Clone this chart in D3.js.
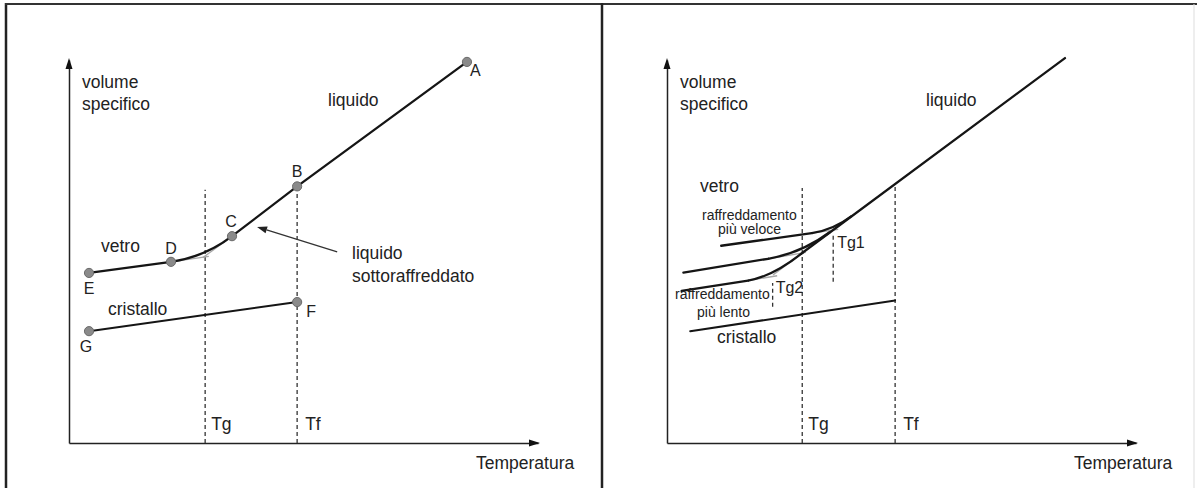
<!DOCTYPE html>
<html><head><meta charset="utf-8">
<script src="https://cdn.jsdelivr.net/npm/d3@7"></script>
<style>
body{margin:0;background:#fff}
svg{display:block}
text{font-family:"Liberation Sans",Arial,Helvetica,sans-serif;fill:#222}
</style>
</head><body>
<svg id="c" width="1197" height="488"></svg>
<script>
// ---------- data (temperature / specific volume, arbitrary units) ----------
const tempDomain = [0, 103];
const volDomain = [0, 100];
const TgLeft = 29.9, TfLeft = 50.1, TgRight = 29.7, TfRight = 50.1;

// left panel
const pointNames = ["A", "B", "C", "D", "E", "F", "G"];
const pointT = [87.4, 50.1, 35.8, 22.4, 4.4, 50.1, 4.4];
const pointV = [99.5, 67.0, 54.0, 47.3, 44.4, 36.8, 29.2];
const liquidLeftT = [87.4, 50.1, 35.8];
const liquidLeftV = [99.5, 67.0, 54.0];
const glassLeftT = [4.4, 22.4];
const glassLeftV = [44.4, 47.3];
const kneeLeftT = [22.4, 29.9, 35.8];   // start, tangent corner, end
const kneeLeftV = [47.3, 48.6, 54.0];
const crystalLeftT = [4.4, 50.1];
const crystalLeftV = [29.2, 36.8];
const extLeftT = [[22.4, 30.7], [35.8, 29.4]];
const extLeftV = [[47.3, 48.7], [54.0, 48.4]];
const dashTopLeft = [66.1, 67.0];        // Tg, Tf dashed line tops
const arrowT = [58.9, 41.3];
const arrowV = [49.9, 56.4];

// right panel
const liquidRightT = [87.4, 29.9];
const liquidRightV = [100.5, 49.8];
const glassRightT = [[11.9, 31.8], [3.6, 22.2], [3.2, 17.8]];   // fast, medium, slow
const glassRightV = [[51.5, 54.8], [44.5, 48.1], [39.7, 42.4]];
const kneeRightT = [[31.8, 36.5, 40.6], [22.2, 29.6, 35.8], [17.8, 23.3, 29.9]];
const kneeRightV = [[54.8, 55.6, 59.3], [48.1, 49.6, 55.1], [42.4, 43.5, 49.8]];
const extRightT = [[31.8, 37.6], [22.2, 30.5], [17.8, 24.2], [29.9, 23.3]];
const extRightV = [[54.8, 55.8], [48.1, 49.75], [42.4, 43.67], [49.8, 43.9]];
const crystalRightT = [5.1, 50.1];
const crystalRightV = [29.2, 37.2];
const dashTopRight = [66.6, 67.6];
const tg1T = 36.5, tg1V = [42.1, 54.3];
const tg2T = 23.2, tg2V = [35.6, 41.8];

// ---------- drawing ----------
const svg = d3.select("#c");
const x = d3.scaleLinear().domain(tempDomain).range([69, 538]);
const y = d3.scaleLinear().domain(volDomain).range([443, 60]);
const lineGen = d3.line().x(d => x(d[0])).y(d => y(d[1]));
const zip = (a, b) => a.map((v, i) => [v, b[i]]);
const INK = "#151515";

// frame
svg.append("line").attr("x1", 6).attr("y1", 3).attr("x2", 6).attr("y2", 488).attr("stroke", "#222").attr("stroke-width", 2.5);
svg.append("line").attr("x1", 5).attr("y1", 4).attr("x2", 1197).attr("y2", 4).attr("stroke", "#333").attr("stroke-width", 2);
svg.append("line").attr("x1", 602).attr("y1", 3).attr("x2", 602).attr("y2", 488).attr("stroke", "#222").attr("stroke-width", 2.5);
svg.append("line").attr("x1", 1194).attr("y1", 4).attr("x2", 1194).attr("y2", 488).attr("stroke", "#ddd").attr("stroke-width", 1);

function axes(g) {
  const xa = g.append("g").attr("transform", `translate(0,${y(0)})`)
    .call(d3.axisBottom(x).tickValues([]).tickSizeOuter(0));
  xa.select(".domain").attr("stroke", "#222").attr("stroke-width", 1.5);
  const ya = g.append("g").attr("transform", `translate(${x(0)},0)`)
    .call(d3.axisLeft(y).tickValues([]).tickSizeOuter(0));
  ya.select(".domain").attr("stroke", "#222").attr("stroke-width", 1.5);
  const x0 = x(0), y0 = y(0), xe = x(tempDomain[1]), ye = y(volDomain[1]);
  g.append("path").attr("d", `M${xe + 2},${y0}L${xe - 9},${y0 - 3.5}L${xe - 9},${y0 + 3.5}Z`).attr("fill", "#111");
  g.append("path").attr("d", `M${x0},${ye - 2}L${x0 - 3.5},${ye + 9}L${x0 + 3.5},${ye + 9}Z`).attr("fill", "#111");
  g.append("text").attr("x", 82).attr("y", 88).attr("font-size", 17.5).text("volume");
  g.append("text").attr("x", 82).attr("y", 110).attr("font-size", 17.5).text("specifico");
  g.append("text").attr("x", 476).attr("y", 469).attr("font-size", 17.5).text("Temperatura");
}

function dashed(g, T, v0, v1) {
  g.append("line").attr("x1", x(T)).attr("x2", x(T)).attr("y1", y(v0)).attr("y2", y(v1))
    .attr("stroke", "#333").attr("stroke-width", 1.3).attr("stroke-dasharray", "4,3");
}
function knee(g, T, V) {
  const p = d3.path();
  p.moveTo(x(T[0]), y(V[0]));
  p.quadraticCurveTo(x(T[1]), y(V[1]), x(T[2]), y(V[2]));
  g.append("path").attr("d", p.toString()).attr("fill", "none").attr("stroke", INK).attr("stroke-width", 2.3);
}
function solid(g, pts, w) {
  g.append("path").attr("d", lineGen(pts)).attr("fill", "none").attr("stroke", INK)
    .attr("stroke-width", w || 2.3).attr("stroke-linecap", "round");
}
function gray(g, T, V) {
  g.append("path").attr("d", lineGen(zip(T, V))).attr("fill", "none").attr("stroke", "#a8a8a8").attr("stroke-width", 1.3);
}

// ----- left panel -----
const L = svg.append("g");
axes(L);
dashed(L, TgLeft, 0, dashTopLeft[0]);
dashed(L, TfLeft, 0, dashTopLeft[1]);
extLeftT.forEach((t, i) => gray(L, t, extLeftV[i]));
solid(L, zip(liquidLeftT, liquidLeftV));
solid(L, zip(glassLeftT, glassLeftV));
knee(L, kneeLeftT, kneeLeftV);
solid(L, zip(crystalLeftT, crystalLeftV), 2);
// arrow to the supercooled liquid
{
  const x1 = x(arrowT[0]), y1 = y(arrowV[0]), x2 = x(arrowT[1]), y2 = y(arrowV[1]);
  const a = Math.atan2(y2 - y1, x2 - x1), len = 10, wd = 3.5;
  const bx = x2 - len * Math.cos(a), by = y2 - len * Math.sin(a);
  L.append("line").attr("x1", x1).attr("y1", y1).attr("x2", bx).attr("y2", by).attr("stroke", "#333").attr("stroke-width", 1.3);
  L.append("path").attr("d", `M${x2},${y2}L${bx - wd * Math.sin(a)},${by + wd * Math.cos(a)}L${bx + wd * Math.sin(a)},${by - wd * Math.cos(a)}Z`).attr("fill", "#222");
}
// points
const labelOff = { A: [3, 14, "start"], B: [0, -9, "middle"], C: [-1, -9.5, "middle"], D: [0, -8, "middle"], E: [0, 21, "middle"], F: [9, 15, "start"], G: [-3, 21, "middle"] };
pointNames.forEach((n, i) => {
  L.append("circle").attr("cx", x(pointT[i])).attr("cy", y(pointV[i])).attr("r", 4.6)
    .attr("fill", "#8a8a8a").attr("stroke", "#6a6a6a").attr("stroke-width", 1);
  const o = labelOff[n];
  L.append("text").attr("x", x(pointT[i]) + o[0]).attr("y", y(pointV[i]) + o[1])
    .attr("text-anchor", o[2]).attr("font-size", 16).text(n);
});
L.append("text").attr("x", 328).attr("y", 106).attr("font-size", 17.5).text("liquido");
L.append("text").attr("x", 101).attr("y", 252).attr("font-size", 17.5).text("vetro");
L.append("text").attr("x", 108).attr("y", 315).attr("font-size", 17.5).text("cristallo");
L.append("text").attr("x", 352).attr("y", 259).attr("font-size", 17.5).text("liquido");
L.append("text").attr("x", 352).attr("y", 282).attr("font-size", 17.5).text("sottoraffreddato");
L.append("text").attr("x", x(TgLeft) + 6).attr("y", 430).attr("font-size", 17.5).text("Tg");
L.append("text").attr("x", x(TfLeft) + 8).attr("y", 430).attr("font-size", 17.5).text("Tf");

// ----- right panel -----
const R = svg.append("g").attr("transform", "translate(598,0)");
axes(R);
dashed(R, TgRight, 0, dashTopRight[0]);
dashed(R, TfRight, 0, dashTopRight[1]);
dashed(R, tg1T, tg1V[0], tg1V[1]);
dashed(R, tg2T, tg2V[0], tg2V[1]);
extRightT.forEach((t, i) => gray(R, t, extRightV[i]));
solid(R, zip(liquidRightT, liquidRightV));
glassRightT.forEach((t, i) => { solid(R, zip(t, glassRightV[i])); knee(R, kneeRightT[i], kneeRightV[i]); });
solid(R, zip(crystalRightT, crystalRightV), 2);
R.append("text").attr("x", 328).attr("y", 106).attr("font-size", 17.5).text("liquido");
R.append("text").attr("x", 102).attr("y", 192).attr("font-size", 17.5).text("vetro");
R.append("text").attr("x", 104).attr("y", 220).attr("font-size", 14).text("raffreddamento");
R.append("text").attr("x", 120).attr("y", 234).attr("font-size", 14).text("più veloce");
R.append("text").attr("x", 77).attr("y", 299).attr("font-size", 14).text("raffreddamento");
R.append("text").attr("x", 99).attr("y", 317).attr("font-size", 14).text("più lento");
R.append("text").attr("x", 119).attr("y", 343).attr("font-size", 17.5).text("cristallo");
R.append("text").attr("x", x(tg1T) + 4).attr("y", 248).attr("font-size", 16).text("Tg1");
R.append("text").attr("x", x(tg2T) + 3).attr("y", 293).attr("font-size", 16).text("Tg2");
R.append("text").attr("x", x(TgRight) + 6).attr("y", 430).attr("font-size", 17.5).text("Tg");
R.append("text").attr("x", x(TfRight) + 8).attr("y", 430).attr("font-size", 17.5).text("Tf");
</script>
</body></html>
